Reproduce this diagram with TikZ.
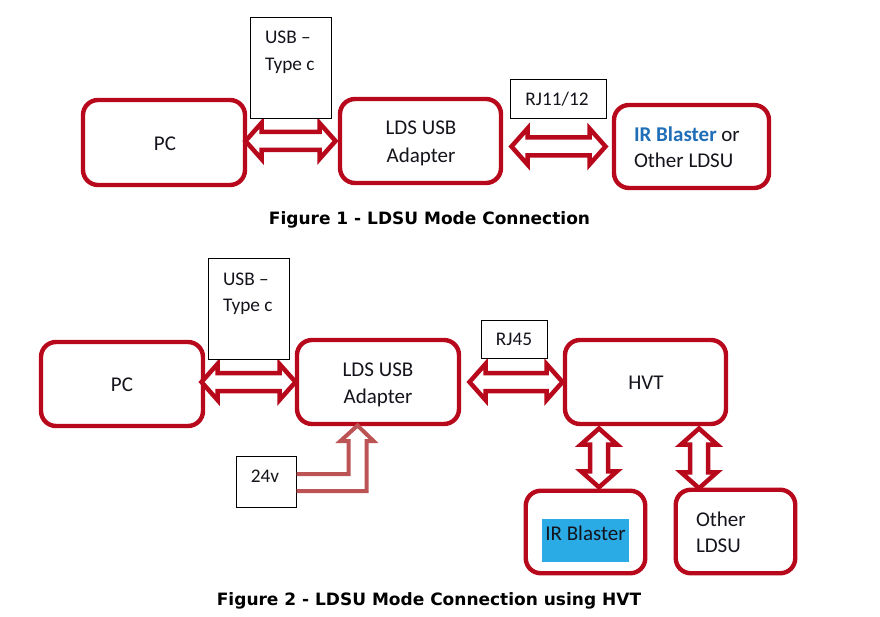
\documentclass[tikz,border=0pt]{standalone}
\usepackage{fontspec}
\setmainfont{Carlito}
\newfontfamily\capfont{DejaVu Sans}
\usetikzlibrary{calc}
\definecolor{boxred}{HTML}{B8081C}
\definecolor{softred}{HTML}{BC5456}
\definecolor{inkc}{HTML}{14141C}
\definecolor{blueb}{HTML}{1F6FB8}
\definecolor{bluefill}{HTML}{2BABE6}
\tikzset{
  x=1pt,y=-1pt,
  every node/.style={inner sep=0pt,outer sep=0pt,text=inkc,font=\fontsize{21}{27}\selectfont},
  small/.style={font=\fontsize{19.3}{24}\selectfont},
  rbox/.style={draw=boxred,line width=4.4pt,rounded corners=15pt,fill=white},
  tag/.style={draw=black,line width=0.9pt,fill=white},
  dblarrow/.style={draw=boxred,fill=white,line width=4.5pt,line join=miter,miter limit=10},
  feed/.style={draw=softred,line width=4pt,line join=miter,miter limit=10},
  caption/.style={font=\capfont\bfseries\fontsize{17}{20}\selectfont,text=black},
}
% horizontal double arrow between nodes: offsets from the two edges
\newcommand{\hconn}[4]{%
  \draw[dblarrow] let \p1=(#1.east),\p2=(#2.west),\n1={\x2-\x1-(#3pt)-(#4pt)-32pt} in
    (\x1+#3pt,\y2) -- ++(16,-18) -- ++(0,9) -- ++(\n1,0) -- ++(0,-9) -- ++(16,18)
    -- ++(-16,18) -- ++(0,-9) -- ++(-\n1,0) -- ++(0,9) -- cycle;}
% vertical double arrow between nodes at absolute x
\newcommand{\vconn}[5]{%
  \draw[dblarrow] let \p1=(#1.south),\p2=(#2.north),\p3=(#3,0),\n1={\y1-\y2-(#4pt)-(#5pt)-32pt} in
    (\x3,\y1-#4pt) -- ++(18,16) -- ++(-9,0) -- ++(0,-\n1) -- ++(9,0) -- ++(-18,16)
    -- ++(-18,-16) -- ++(9,0) -- ++(0,\n1) -- ++(-9,0) -- cycle;}
\begin{document}
\begin{tikzpicture}
\useasboundingbox (0,0) rectangle (880,617);
% Figure 1 boxes
\node[rbox,minimum width=162pt,minimum height=85pt] (pcA) at (164,142.5) {};
\node[rbox,minimum width=161pt,minimum height=84pt] (adA) at (420.5,141) {};
\node[rbox,minimum width=155pt,minimum height=83pt] (irA) at (691.5,146.5) {};
\hconn{pcA}{adA}{0.5}{4.5}
\hconn{adA}{irA}{10.5}{8.5}
\node[tag,minimum width=80.5pt,minimum height=101pt] (usbA) at (290.7,67.5) {};
\node[tag,minimum width=96.5pt,minimum height=39.5pt] (rjA) at (558.2,99.2) {};
\node[small] (usbAt) [anchor=west] at (265,37) {USB --};
\node[small] (usbAu) [anchor=west] at (265,65.5) {Type c};
\node[small] (rjAt) at (557,99.5) {RJ11/12};
\node (pcAt) at (165,143.5) {PC};
\node (adAt) at (421,128) {LDS USB};
\node (adAu) at (421,156.5) {Adapter};
\node (irAt) [anchor=west] at (634,134) {\textbf{\textcolor{blueb}{IR Blaster}} or};
\node (irAu) [anchor=west] at (634,160) {Other LDSU};
\node[caption] (capA) at (429.5,219.5) {Figure 1 - LDSU Mode Connection};
% Figure 2 boxes
\node[rbox,minimum width=162pt,minimum height=84pt] (pcB) at (122,384) {};
\node[rbox,minimum width=162pt,minimum height=84pt] (adB) at (378,382) {};
\node[rbox,minimum width=161pt,minimum height=84pt] (hvt) at (645.5,382) {};
\node[rbox,minimum width=119.5pt,minimum height=82.5pt] (irB) at (585.5,532) {};
\node[rbox,minimum width=119.5pt,minimum height=83.5pt] (ot) at (735.5,531.5) {};
\hconn{pcB}{adB}{-1.5}{1.5}
\hconn{adB}{hvt}{10.5}{2.5}
\vconn{hvt}{irB}{599}{4.5}{3.5}
\vconn{hvt}{ot}{699}{4.5}{1.5}
\node[tag,minimum width=81pt,minimum height=101pt] (usbB) at (249,309) {};
\node[tag,minimum width=66pt,minimum height=38pt] (rjB) at (514,339) {};
\node[tag,minimum width=60pt,minimum height=51pt] (v24) at (266.5,482) {};
\draw[feed] let \p1=(v24.east),\p2=(adB.south) in
  (\x1,\y1+8pt) -- ++(52,0) -- ++(0,-33) -- ++(-8,0) -- ++(17,-15.5) -- ++(16,15.5) -- ++(-7,0) -- ++(0,50) -- ++(-70,0);
\node[inner sep=0pt,fill=bluefill,minimum width=87pt,minimum height=43pt] (blue) at (585.5,540.5) {};
\node[small] (usbBt) [anchor=west] at (223,279) {USB --};
\node[small] (usbBu) [anchor=west] at (223,306.5) {Type c};
\node[small] (rjBt) at (514,339.5) {RJ45};
\node[small] (vt) at (265,476) {24v};
\node (pcBt) at (122,384.5) {PC};
\node (adBt) at (378,370) {LDS USB};
\node (adBu) at (378,397.5) {Adapter};
\node (hvtt) at (646,382.5) {HVT};
\node (irBt) at (585.5,533.5) {IR Blaster};
\node (ott) [anchor=west] at (696,519.5) {Other};
\node (otu) [anchor=west] at (696,546) {LDSU};
\node[caption] (capB) at (429,600.5) {Figure 2 - LDSU Mode Connection using HVT};
\end{tikzpicture}
\end{document}
